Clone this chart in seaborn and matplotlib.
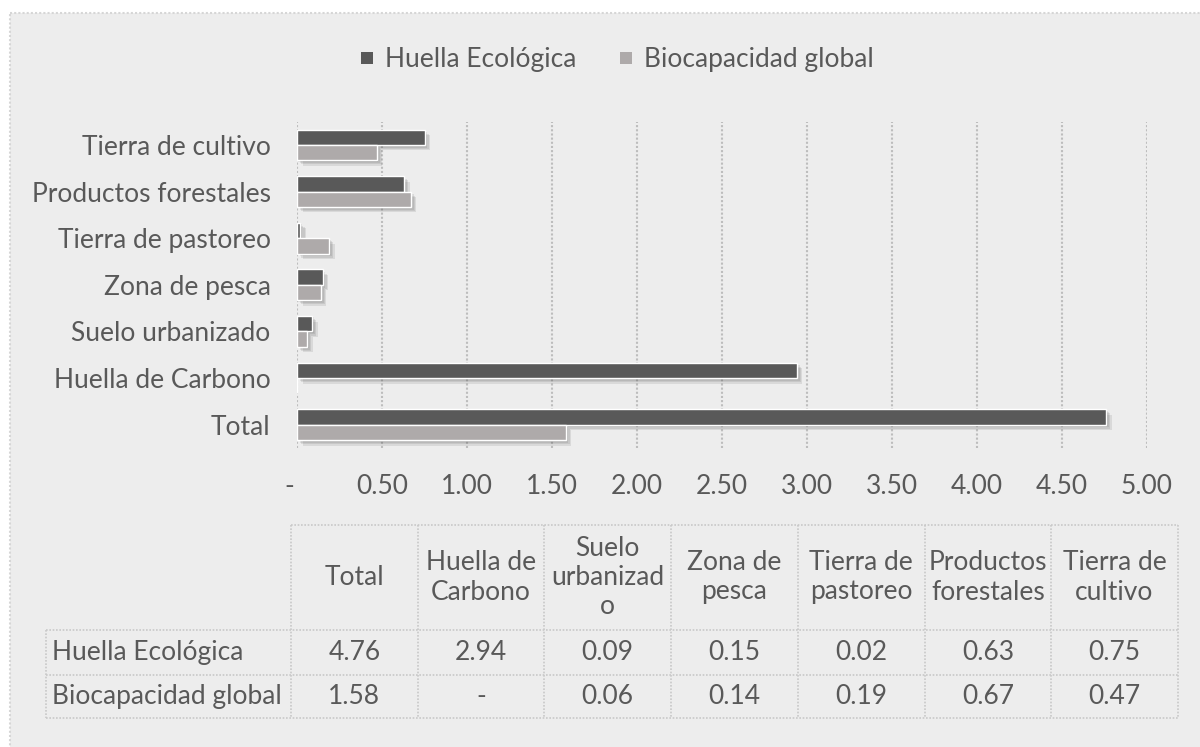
import numpy as np
import pandas as pd
import matplotlib
matplotlib.use("Agg")
import matplotlib.pyplot as plt
import matplotlib.patheffects as pe
from matplotlib.patches import Rectangle
from matplotlib.lines import Line2D
import seaborn as sns

# datos (orden de la tabla)
categorias = ["Total", "Huella de Carbono", "Suelo urbanizado", "Zona de pesca",
              "Tierra de pastoreo", "Productos forestales", "Tierra de cultivo"]
encabezados = ["Total", "Huella de\nCarbono", "Suelo\nurbanizad\no", "Zona de\npesca",
               "Tierra de\npastoreo", "Productos\nforestales", "Tierra de\ncultivo"]
series = ["Huella Ecológica", "Biocapacidad global"]
huella = [4.76, 2.94, 0.09, 0.15, 0.02, 0.63, 0.75]
biocap = [1.58, np.nan, 0.06, 0.14, 0.19, 0.67, 0.47]
ticks_x = [0, 0.5, 1.0, 1.5, 2.0, 2.5, 3.0, 3.5, 4.0, 4.5, 5.0]

oscuro = "#595959"
claro = "#aeaaaa"
texto = "#595959"
fs = 19


def fmt(v):
    if v is None or np.isnan(v) or v == 0:
        return "-"
    return "{:.2f}".format(v)


sns.set_theme(style="white")
plt.rcParams['font.family'] = ['Lato', 'DejaVu Sans']
plt.rcParams['text.color'] = texto

df = pd.DataFrame({
    "categoria": categorias * 2,
    "serie": [series[0]] * len(categorias) + [series[1]] * len(categorias),
    "valor": huella + biocap,
})
df["valor"] = df["valor"].fillna(0)

W, H = 1200, 747
fig = plt.figure(figsize=(W / 100, H / 100), dpi=100, facecolor="white")

# fondo y tabla en coordenadas de pixel
bg = fig.add_axes([0, 0, 1, 1], zorder=0)
bg.set_xlim(0, W)
bg.set_ylim(H, 0)
bg.axis("off")
bg.add_patch(Rectangle((10, 13), W + 20, H + 20, facecolor="#ededed",
                       edgecolor="#d6d6d6", linewidth=1.5, linestyle=(0, (1, 1))))

ax = fig.add_axes([297 / W, 1 - 448 / H, 850 / W, (448 - 121.6) / H], zorder=1)
ax.set_facecolor("none")
sns.barplot(data=df, x="valor", y="categoria", hue="serie",
            order=categorias[::-1], hue_order=series,
            palette=[oscuro, claro], width=0.66, saturation=1,
            errorbar=None, legend=False, ax=ax)
# sombra difusa bajo las barras
sombra = [pe.SimplePatchShadow(offset=(d, -d), shadow_rgbFace="#555555", alpha=0.13)
          for d in (4, 3, 2, 1)]
for bar in ax.patches:
    bar.set_path_effects(sombra + [pe.Normal()])

ax.set_xlim(0, 5)
ax.set_xticks(ticks_x)
ax.set_xticklabels(["-  " if t == 0 else "{:.2f}".format(t) for t in ticks_x])
ax.grid(axis="x", color="#bdbdbd", linestyle=(0, (1, 1)), linewidth=1.5)
ax.set_axisbelow(True)
for s in ax.spines.values():
    s.set_visible(False)
ax.tick_params(axis="x", length=0, pad=19, labelsize=fs, labelcolor=texto)
ax.tick_params(axis="y", length=0, pad=19, labelsize=fs, labelcolor=texto)
ax.set_xlabel("")
ax.set_ylabel("")

handles = [Line2D([], [], marker="s", linestyle="none", markersize=8.2,
                  markerfacecolor=c, markeredgewidth=0) for c in (oscuro, claro)]
fig.legend(handles, series, loc="center", bbox_to_anchor=(617 / W, 1 - 60 / H), ncol=2,
           frameon=False, fontsize=fs, handlelength=0.5, handletextpad=0.45,
           columnspacing=1.6, labelcolor=texto)

# tabla de datos
borde = dict(color="#c8c8c8", linewidth=1.2, linestyle=(0, (1, 1)))
x0, x_datos, ancho = 46, 291, 126.7
y_top, y_head, y_r1, y_r2 = 525, 630, 675, 718
x_fin = x_datos + ancho * len(categorias)
bordes_x = [x_datos + ancho * i for i in range(len(categorias) + 1)]

bg.add_line(Line2D([x_datos, x_fin], [y_top, y_top], **borde))
for y in [y_head, y_r1, y_r2]:
    bg.add_line(Line2D([x0, x_fin], [y, y], **borde))
for x in bordes_x:
    bg.add_line(Line2D([x, x], [y_top, y_r2], **borde))
bg.add_line(Line2D([x0, x0], [y_head, y_r2], **borde))

for i, enc in enumerate(encabezados):
    cx = x_datos + ancho * (i + 0.5)
    bg.text(cx, (y_top + y_head) / 2, enc, ha="center", va="center", fontsize=fs,
            color=texto, linespacing=1.2)
    bg.text(cx, (y_head + y_r1) / 2, fmt(huella[i]), ha="center", va="center",
            fontsize=fs, color=texto)
    bg.text(cx, (y_r1 + y_r2) / 2, fmt(biocap[i]), ha="center", va="center",
            fontsize=fs, color=texto)
bg.text(x0 + 6, (y_head + y_r1) / 2, series[0], ha="left", va="center", fontsize=fs, color=texto)
bg.text(x0 + 6, (y_r1 + y_r2) / 2, series[1], ha="left", va="center", fontsize=fs, color=texto)

fig.savefig("out.png", dpi=100, facecolor="white")
